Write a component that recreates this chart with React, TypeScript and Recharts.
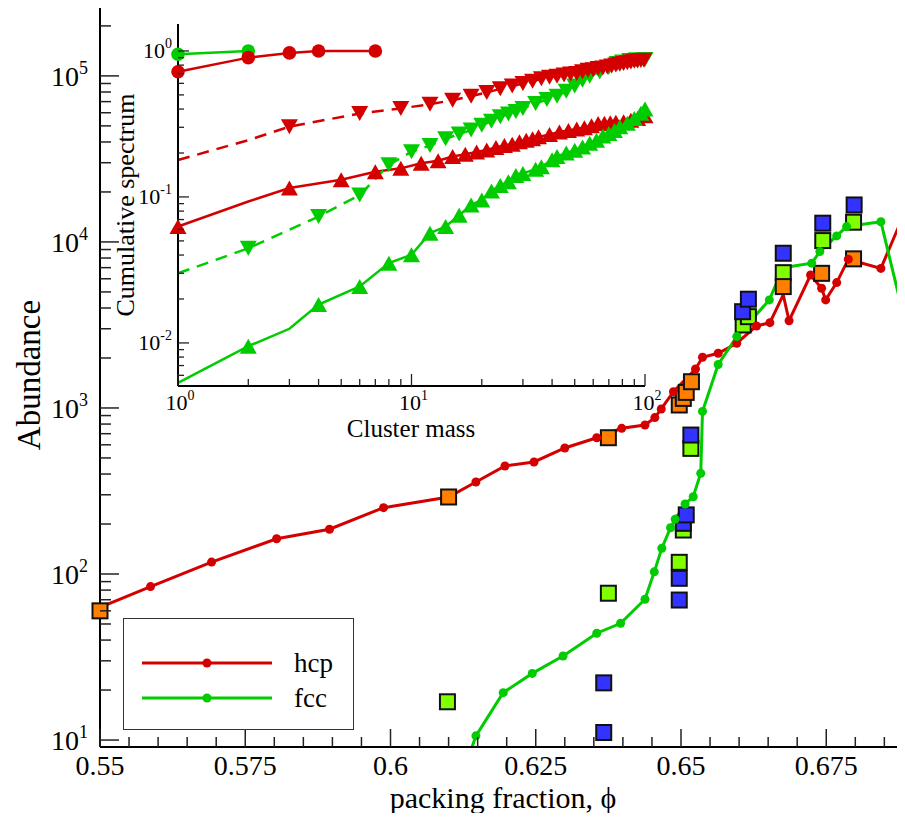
import React from 'react';
import { ComposedChart, Line, Scatter, XAxis, YAxis, Legend } from 'recharts';

const SERIF = '"Liberation Serif", "Times New Roman", serif';
const RED = '#d40000';
const GREEN = '#00cc00';
const ORANGE = '#ff8000';
const LIME = '#80ff00';
const BLUE = '#3333ff';

// main panel: abundance vs packing fraction
const hcpPhi = [0.55, 0.5587, 0.5692, 0.5804, 0.5895, 0.5988, 0.61, 0.6147, 0.6197, 0.6247, 0.63, 0.6355, 0.6398, 0.6438, 0.6455, 0.6466, 0.6487, 0.6525, 0.6537, 0.6564, 0.6596, 0.663, 0.6653, 0.6676, 0.6686, 0.6723, 0.6742, 0.6749, 0.6768, 0.6788, 0.6844, 0.69];
const hcpAbund = [63, 84, 118, 163, 186, 251, 291, 358, 447, 473, 574, 662, 754, 790, 875, 986, 1254, 1718, 2020, 2136, 2454, 3119, 3265, 4800, 3352, 6320, 5262, 4475, 5688, 7870, 6930, 20000];
const hcpHidden = [0, 6, 23];

const fccPhi = [0.6135, 0.6147, 0.6194, 0.6244, 0.6297, 0.6355, 0.6396, 0.6438, 0.6454, 0.6467, 0.6482, 0.649, 0.6507, 0.6521, 0.6534, 0.6537, 0.6564, 0.6596, 0.6652, 0.6676, 0.6725, 0.6739, 0.6768, 0.6785, 0.6844, 0.6887];
const fccAbund = [8.0, 10.6, 19.3, 25.2, 32.1, 44.0, 50.5, 70.5, 103, 143, 190, 214, 264, 292, 404, 953, 1828, 2690, 4477, 7000, 7450, 8750, 10870, 12370, 13240, 3160];
const fccHidden = [19];

const orangePhi = [0.55, 0.61, 0.6375, 0.6497, 0.6504, 0.6509, 0.6518, 0.6676, 0.6742, 0.6797];
const orangeAbund = [60, 291, 662, 1042, 1142, 1241, 1439, 5383, 6470, 7910];
const limePhi = [0.6098, 0.6375, 0.6497, 0.6504, 0.6517, 0.6607, 0.6616, 0.6676, 0.6744, 0.6797];
const limeAbund = [17.0, 76.6, 117.6, 184, 571, 3162, 3548, 6530, 10190, 13150];
const bluePhi = [0.6367, 0.6367, 0.6497, 0.6497, 0.6504, 0.6509, 0.6517, 0.6606, 0.6616, 0.6676, 0.6744, 0.6798];
const blueAbund = [11.1, 22.1, 69.7, 94.2, 202, 227, 687, 3800, 4520, 8550, 12970, 16700];

const xTickLabels = ['0.55', '0.575', '0.6', '0.625', '0.65', '0.675'];
const mainXTicks = Array.from({ length: 28 }, (_, i) => Number((0.55 + i * 0.005).toFixed(3)));
const mainYTicks = [
  10, 20, 30, 40, 50, 60, 70, 80, 90,
  100, 200, 300, 400, 500, 600, 700, 800, 900,
  1000, 2000, 3000, 4000, 5000, 6000, 7000, 8000, 9000,
  10000, 20000, 30000, 40000, 50000, 60000, 70000, 80000, 90000,
  100000, 200000,
];

const legendItems = [
  { name: 'hcp', color: RED },
  { name: 'fcc', color: GREEN },
];

// inset: cumulative spectrum vs cluster mass
const greenCircleMass = [1, 2];
const greenCircleVal = [0.95, 1.0];
const redCircleMass = [1, 2, 3, 4, 7];
const redCircleVal = [0.72, 0.9, 0.97, 1.0, 1.0];

const redDownMass = [1, 2, 3, 6, 9, 12, 15, 18, 21, 24, 27, 30, 33, 36, 39, 42, 45, 48, 51, 54, 57, 60, 63, 66, 69, 72, 75, 78, 81, 84, 87, 90, 93, 96, 99];
const redDownVal = [0.179, 0.245, 0.303, 0.373, 0.404, 0.432, 0.46, 0.49, 0.52, 0.55, 0.575, 0.598, 0.62, 0.645, 0.66, 0.671, 0.685, 0.695, 0.7, 0.72, 0.738, 0.745, 0.757, 0.765, 0.777, 0.79, 0.8, 0.81, 0.819, 0.83, 0.84, 0.85, 0.855, 0.86, 0.863];
const redDownBare = [0, 1];

const greenDownMass = [1, 2, 4, 6, 8, 10, 12, 14, 16, 18, 20, 22, 24, 26, 28, 30, 34, 38, 42, 46, 50, 54, 58, 64, 70, 76, 80, 86, 92, 100];
const greenDownVal = [0.03, 0.0445, 0.0734, 0.103, 0.166, 0.204, 0.225, 0.25, 0.27, 0.287, 0.31, 0.33, 0.354, 0.37, 0.385, 0.404, 0.437, 0.465, 0.49, 0.53, 0.575, 0.63, 0.67, 0.718, 0.77, 0.82, 0.841, 0.86, 0.87, 0.873];
const greenDownBare = [0];

const redUpMass = [1, 2, 3, 5, 7, 9, 11, 13, 15, 17, 19, 21, 23, 25, 27, 29, 31, 33, 35, 39, 43, 47, 51, 55, 59, 63, 67, 71, 75, 81, 87, 93, 100];
const redUpVal = [0.0627, 0.093, 0.115, 0.131, 0.149, 0.157, 0.17, 0.177, 0.189, 0.196, 0.203, 0.21, 0.218, 0.225, 0.23, 0.239, 0.245, 0.25, 0.258, 0.268, 0.279, 0.285, 0.292, 0.298, 0.308, 0.319, 0.32, 0.322, 0.325, 0.327, 0.335, 0.345, 0.36];
const redUpBare = [1];

const greenUpMass = [1, 2, 3, 4, 6, 8, 10, 12, 14, 16, 18, 20, 22, 24, 26, 28, 30, 34, 36, 40, 42, 46, 50, 54, 58, 62, 66, 70, 74, 78, 84, 90, 96, 100];
const greenUpVal = [0.00533, 0.0095, 0.0125, 0.0183, 0.0244, 0.0352, 0.0402, 0.0565, 0.0627, 0.075, 0.088, 0.0954, 0.11, 0.12, 0.127, 0.14, 0.145, 0.155, 0.161, 0.18, 0.189, 0.2, 0.209, 0.22, 0.233, 0.245, 0.262, 0.272, 0.285, 0.303, 0.32, 0.345, 0.375, 0.4];
const greenUpBare = [0, 2];

const insetXTicks = [1, 2, 3, 4, 5, 6, 7, 8, 9, 10, 20, 30, 40, 50, 60, 70, 80, 90, 100];
const insetYTicks = [
  0.006, 0.007, 0.008, 0.009,
  0.01, 0.02, 0.03, 0.04, 0.05, 0.06, 0.07, 0.08, 0.09,
  0.1, 0.2, 0.3, 0.4, 0.5, 0.6, 0.7, 0.8, 0.9, 1,
];

const pairs = (xs: number[], ys: number[]) => xs.map((x, i) => ({ x, y: ys[i] }));
const massPairs = (ms: number[], vs: number[]) => ms.map((m, i) => ({ m, v: vs[i] }));

const isDecade = (v: number) => Math.abs(Math.log10(v) - Math.round(Math.log10(v))) < 1e-9;

function MainXTick(props: any) {
  const { x, y, payload } = props;
  const v = payload.value;
  const k = Math.round((v - 0.55) / 0.025);
  const major = Math.abs(v - (0.55 + k * 0.025)) < 1e-6;
  return (
    <g>
      <line x1={x} x2={x} y1={y} y2={y - (major ? 18 : 10)} stroke="#222" strokeWidth={1.5} />
      {major && (
        <text x={x} y={y + 28} textAnchor="middle" fontSize={28} fontFamily={SERIF} fill="#000">
          {xTickLabels[k]}
        </text>
      )}
    </g>
  );
}

function MainYTick(props: any) {
  const { x, y, payload } = props;
  const v = payload.value;
  const major = isDecade(v);
  return (
    <g>
      <line x1={x} x2={x + (major ? 19 : 11)} y1={y} y2={y} stroke="#222" strokeWidth={1.5} />
      {major && (
        <text x={x - 12} y={y + 10} textAnchor="end" fontSize={28} fontFamily={SERIF} fill="#000">
          10<tspan dy={-12} fontSize={18}>{Math.round(Math.log10(v))}</tspan>
        </text>
      )}
    </g>
  );
}

function InsetXTick(props: any) {
  const { x, y, payload } = props;
  const v = payload.value;
  const major = isDecade(v);
  return (
    <g>
      <line x1={x} x2={x} y1={y} y2={y - (major ? 12 : 7)} stroke="#222" strokeWidth={1.3} />
      {major && (
        <text x={x + 2} y={y + 24} textAnchor="middle" fontSize={22} fontFamily={SERIF} fill="#000">
          10<tspan dy={-10} fontSize={14}>{Math.round(Math.log10(v))}</tspan>
        </text>
      )}
    </g>
  );
}

function InsetYTick(props: any) {
  const { x, y, payload } = props;
  const v = payload.value;
  const major = isDecade(v);
  return (
    <g>
      <line x1={x} x2={x + (major ? 11 : 6)} y1={y} y2={y} stroke="#222" strokeWidth={1.3} />
      {major && (
        <text x={x - 6} y={y + 7} textAnchor="end" fontSize={22} fontFamily={SERIF} fill="#000">
          10<tspan dy={-10} fontSize={14}>{Math.round(Math.log10(v))}</tspan>
        </text>
      )}
    </g>
  );
}

const squareShape = (color: string) => (p: any) => (
  <rect x={p.cx - 7.5} y={p.cy - 7.5} width={15} height={15} fill={color} stroke="#111" strokeWidth={2} />
);

const smallDot = (color: string, hidden: number[]) => (p: any) => {
  if (hidden.includes(p.index)) return <g key={`s-${p.index}`} />;
  return <circle key={`s-${p.index}`} cx={p.cx} cy={p.cy} r={4.5} fill={color} stroke="none" />;
};

const circleDot = (color: string) => (p: any) => (
  <circle key={`c-${p.index}`} cx={p.cx} cy={p.cy} r={6.8} fill={color} stroke="none" />
);

const triangleDot = (color: string, up: boolean, bare: number[]) => (p: any) => {
  const { cx, cy, index } = p;
  if (bare.includes(index)) return <g key={`t-${index}`} />;
  const s = 8.5;
  const h = 7.5;
  const pts = up
    ? `${cx},${cy - h} ${cx - s},${cy + h} ${cx + s},${cy + h}`
    : `${cx},${cy + h} ${cx - s},${cy - h} ${cx + s},${cy - h}`;
  return <polygon key={`t-${index}`} points={pts} fill={color} stroke="none" />;
};

const renderLegend = () => (
  <div style={{ width: 229, height: 110, border: '1px solid #333', background: '#fff' }}>
    <svg width={229} height={110}>
      {legendItems.map((it, i) => (
        <g key={it.name}>
          <line x1={18} x2={148} y1={44 + i * 35} y2={44 + i * 35} stroke={it.color} strokeWidth={3} />
          <circle cx={83} cy={44 + i * 35} r={4.5} fill={it.color} />
          <text x={170} y={53 + i * 35} fontSize={27} fontFamily={SERIF} fill="#000">
            {it.name}
          </text>
        </g>
      ))}
    </svg>
  </div>
);

const frameAxis = { stroke: '#000', strokeWidth: 2 };

export default function App() {
  return (
    <div style={{ position: 'relative', width: 905, height: 821, margin: -8, overflow: 'hidden', background: '#fff' }}>
      <div style={{ position: 'absolute', left: 0, top: 0 }}>
        <ComposedChart width={1000} height={821} margin={{ top: 7, right: 86.6, bottom: 0, left: 0 }}>
          <XAxis type="number" dataKey="x" domain={[0.55, 0.69]} ticks={mainXTicks} interval={0} height={74}
            tickSize={0} tickMargin={0} tickLine={false} tick={(p: any) => <MainXTick {...p} />} axisLine={frameAxis} />
          <XAxis xAxisId="top" orientation="top" type="number" domain={[0, 1]} height={0} tick={false} tickLine={false} axisLine={frameAxis} />
          <YAxis type="number" dataKey="y" scale="log" domain={[9.08, 260000]} allowDataOverflow ticks={mainYTicks} interval={0} width={100}
            tickSize={0} tickMargin={0} tickLine={false} tick={(p: any) => <MainYTick {...p} />} axisLine={frameAxis} />
          <YAxis yAxisId="sq" hide type="number" dataKey="y" scale="log" domain={[9.08, 260000]} />
          <Line data={pairs(hcpPhi, hcpAbund)} dataKey="y" name="hcp" stroke={RED} strokeWidth={3}
            dot={smallDot(RED, hcpHidden)} activeDot={false} isAnimationActive={false} />
          <Line data={pairs(fccPhi, fccAbund)} dataKey="y" name="fcc" stroke={GREEN} strokeWidth={3}
            dot={smallDot(GREEN, fccHidden)} activeDot={false} isAnimationActive={false} />
          <Scatter yAxisId="sq" data={pairs(limePhi, limeAbund)} shape={squareShape(LIME)} isAnimationActive={false} />
          <Scatter yAxisId="sq" data={pairs(bluePhi, blueAbund)} shape={squareShape(BLUE)} isAnimationActive={false} />
          <Scatter yAxisId="sq" data={pairs(orangePhi, orangeAbund)} shape={squareShape(ORANGE)} isAnimationActive={false} />
          <Legend content={renderLegend} layout="horizontal" verticalAlign="middle" align="center"
            wrapperStyle={{ left: 123, top: 618, width: 231, height: 112 }} />
        </ComposedChart>
      </div>

      <div style={{ position: 'absolute', left: 100, top: 0 }}>
        <ComposedChart width={600} height={450} margin={{ top: 24, right: 55, bottom: 0, left: 0 }}>
          <XAxis type="number" dataKey="m" scale="log" domain={[1, 100]} ticks={insetXTicks} interval={0} height={64}
            tickSize={0} tickMargin={0} tickLine={false} tick={(p: any) => <InsetXTick {...p} />} axisLine={frameAxis} />
          <XAxis xAxisId="top" orientation="top" type="number" domain={[0, 1]} height={0} tick={false} tickLine={false} axisLine={frameAxis} />
          <YAxis type="number" dataKey="v" scale="log" domain={[0.00507, 1.53]} ticks={insetYTicks} interval={0} width={78}
            tickSize={0} tickMargin={0} tickLine={false} tick={(p: any) => <InsetYTick {...p} />} axisLine={frameAxis} />
          <YAxis yAxisId="right" orientation="right" type="number" domain={[0, 1]} width={0} tick={false} tickLine={false} axisLine={frameAxis} />
          <Line data={massPairs(redUpMass, redUpVal)} dataKey="v" stroke={RED} strokeWidth={2.5}
            dot={triangleDot(RED, true, redUpBare)} activeDot={false} isAnimationActive={false} />
          <Line data={massPairs(greenUpMass, greenUpVal)} dataKey="v" stroke={GREEN} strokeWidth={2.5}
            dot={triangleDot(GREEN, true, greenUpBare)} activeDot={false} isAnimationActive={false} />
          <Line data={massPairs(greenDownMass, greenDownVal)} dataKey="v" stroke={GREEN} strokeWidth={2.5} strokeDasharray="12 8"
            dot={triangleDot(GREEN, false, greenDownBare)} activeDot={false} isAnimationActive={false} />
          <Line data={massPairs(redDownMass, redDownVal)} dataKey="v" stroke={RED} strokeWidth={2.5} strokeDasharray="12 8"
            dot={triangleDot(RED, false, redDownBare)} activeDot={false} isAnimationActive={false} />
          <Line data={massPairs(greenCircleMass, greenCircleVal)} dataKey="v" stroke={GREEN} strokeWidth={2.5}
            dot={circleDot(GREEN)} activeDot={false} isAnimationActive={false} />
          <Line data={massPairs(redCircleMass, redCircleVal)} dataKey="v" stroke={RED} strokeWidth={2.5}
            dot={circleDot(RED)} activeDot={false} isAnimationActive={false} />
        </ComposedChart>
      </div>

      <svg width={905} height={821} style={{ position: 'absolute', left: 0, top: 0, pointerEvents: 'none' }}>
        <text transform="translate(40,375) rotate(-90)" textAnchor="middle" fontSize={33} fontFamily={SERIF} fill="#000">Abundance</text>
        <text x={503} y={808} textAnchor="middle" fontSize={30} fontFamily={SERIF} fill="#000">packing fraction, ϕ</text>
        <text transform="translate(134,205) rotate(-90)" textAnchor="middle" fontSize={26} fontFamily={SERIF} fill="#000">Cumulative spectrum</text>
        <text x={411} y={437} textAnchor="middle" fontSize={25} fontFamily={SERIF} fill="#000">Cluster mass</text>
      </svg>
    </div>
  );
}
